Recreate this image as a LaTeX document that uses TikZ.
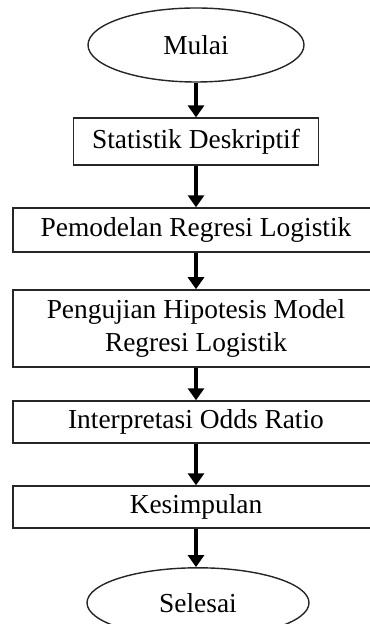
\documentclass[tikz,border=0pt]{standalone}
\usepackage{fontspec}
\setmainfont{Liberation Serif}
\usetikzlibrary{arrows.meta,shapes.geometric}

\begin{document}
\begin{tikzpicture}[font=\fontsize{19.5}{24}\selectfont,
 box/.style={draw=black!85,line width=1pt,align=center,inner sep=0pt},
 term/.style={draw=black!85,line width=1pt,ellipse,inner sep=0pt,minimum width=5.4cm,minimum height=1.85cm},
 arr/.style={-{Triangle[length=0.3cm,width=0.4cm]},line width=2.4pt}]
\useasboundingbox (0,0) rectangle (9.25,-15.6);
\node[term] (mulai) at (4.9,-1.125) {Mulai};
\node[box,minimum width=6.125cm,minimum height=1.175cm] (desk) at (4.9,-3.54) {Statistik Deskriptif};
\node[box,minimum width=9.15cm,minimum height=1.1cm] (model) at (4.9,-5.75) {Pemodelan Regresi Logistik};
\node[box,minimum width=9.15cm,minimum height=1.925cm] (uji) at (4.9,-8.21) {Pengujian Hipotesis Model\\Regresi Logistik};
\node[box,minimum width=9.15cm,minimum height=1.05cm] (odds) at (4.9,-10.55) {Interpretasi Odds Ratio};
\node[box,minimum width=9.15cm,minimum height=1.05cm] (simpul) at (4.9,-12.675) {Kesimpulan};
\node[term,minimum width=5.55cm,minimum height=1.75cm] (selesai) at (4.95,-15.07) {Selesai};
\draw[arr] (mulai) -- (desk);
\draw[arr] (desk) -- (model);
\draw[arr] (model) -- (uji);
\draw[arr] (uji) -- (odds);
\draw[arr] (odds) -- (simpul);
\draw[arr] (simpul.south) -- (selesai.north -| simpul.south);
\end{tikzpicture}
\end{document}
